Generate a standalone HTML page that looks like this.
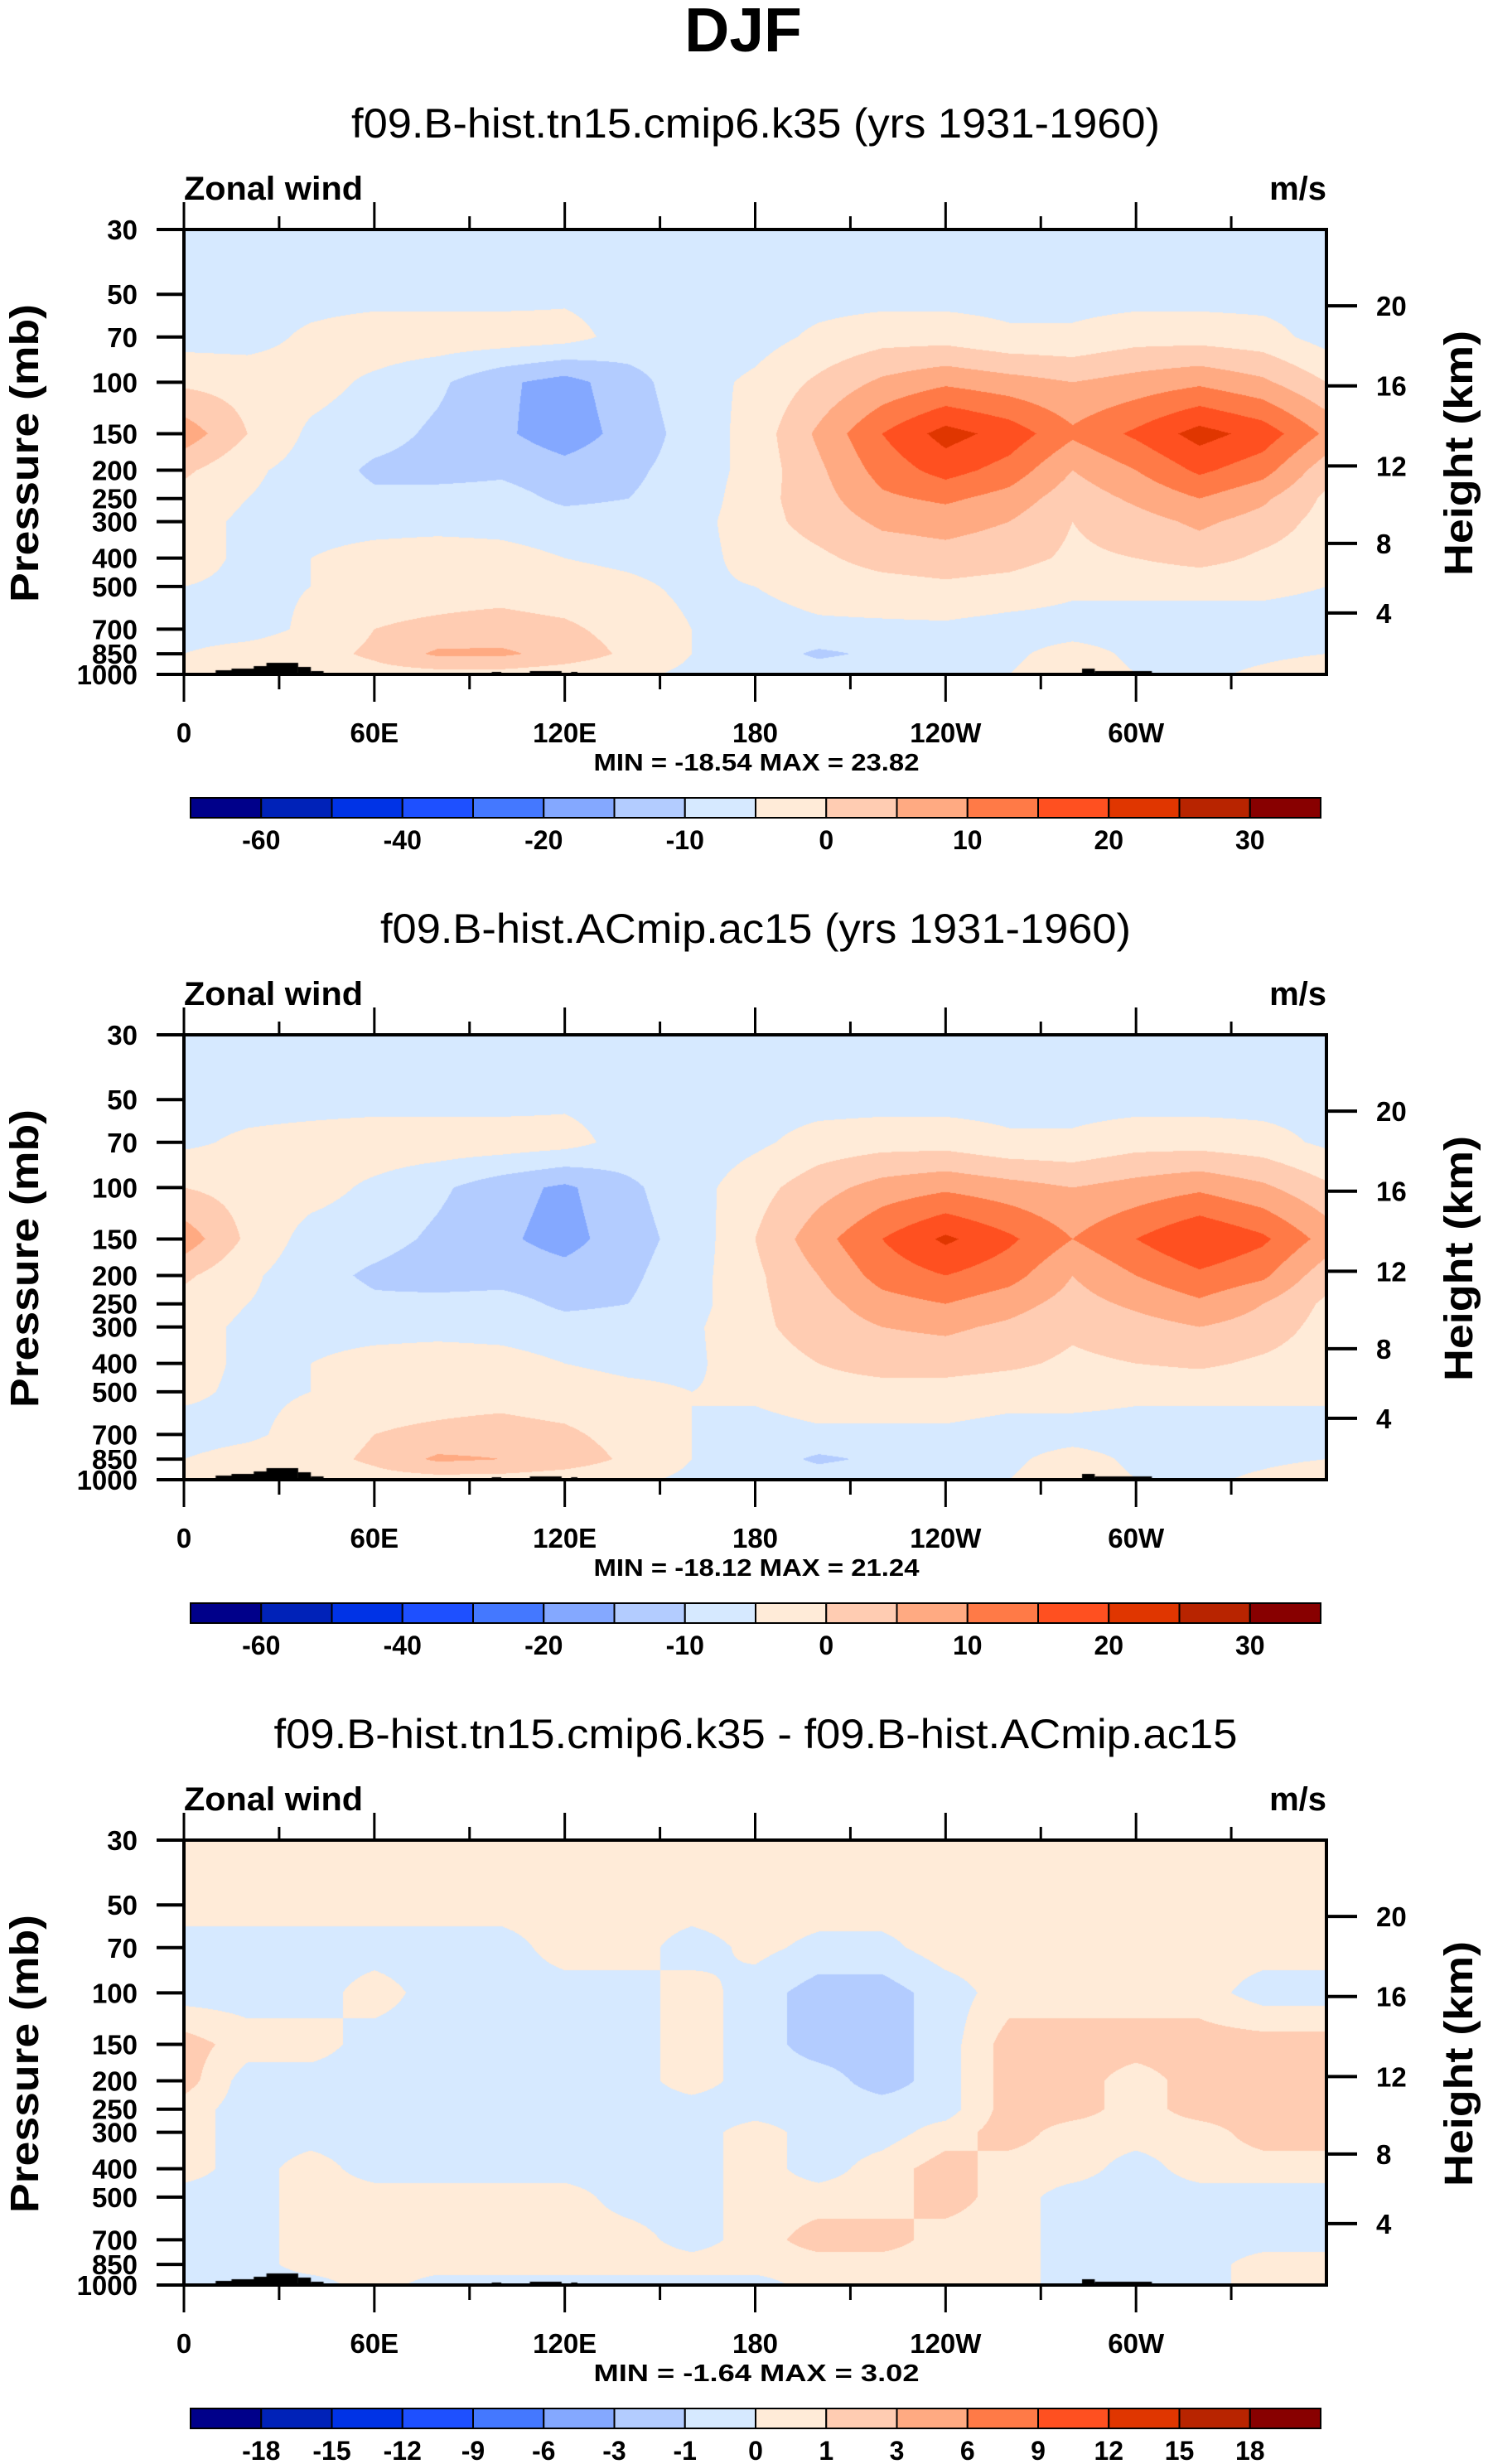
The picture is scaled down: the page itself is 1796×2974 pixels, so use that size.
<!DOCTYPE html>
<html><head><meta charset="utf-8">
<style>
body{margin:0;background:#fff;}
#root{position:relative;width:1796px;height:2974px;overflow:hidden;background:#fff;font-family:"Liberation Sans",Arial,sans-serif;}
canvas{position:absolute;}
svg{position:absolute;left:0;top:0;}
</style></head>
<body>
<div id="root">
<canvas id="c0"></canvas>
<canvas id="c1"></canvas>
<canvas id="c2"></canvas>
<svg id="svg" width="1796" height="2974">
<text x="897" y="62" font-size="75" font-weight="bold" text-anchor="middle" font-family="Liberation Sans, sans-serif">DJF</text>
</svg>
</div>
<script>
// ---- data ----
const pressures = [30,50,70,100,150,200,250,300,400,500,700,850,1000];
const lons = [0,20,40,60,80,100,120,140,160,180,200,220,240,260,280,300,320,340,360];
const pTicks = [30,50,70,100,150,200,250,300,400,500,700,850,1000];
const hTicks = [20,16,12,8,4];
const lonTickLabels = ["0","60E","120E","180","120W","60W"];
const levelsAbs = [-60,-50,-40,-30,-20,-15,-10,-5,0,5,10,15,20,25,30];
const labelsAbs = ["-60","","-40","","-20","","-10","","0","","10","","20","","30"];
const levelsDiff = [-18,-15,-12,-9,-6,-3,-1,0,1,3,6,9,12,15,18];
const labelsDiff = ["-18","-15","-12","-9","-6","-3","-1","0","1","3","6","9","12","15","18"];
const colors = ["#00008a","#0022b8","#0033e6","#1e50ff","#4478ff","#84a8ff","#b3ccff","#d6e9ff","#ffebd8","#ffccb2","#ffaa82","#ff7a47","#ff5020","#e03600","#b82400","#880000"];
const fieldK35 = [
[-7,-7,-7,-7,-7,-7,-7,-7,-7,-7,-7,-7,-7,-7,-7,-7,-7,-7,-7],
[-7,-7,-7,-7,-7,-7,-6,-7,-7,-7,-7,-7,-7,-7,-7,-7,-7,-7,-7],
[-7,-7,-4,-2,-2,-2,-3,-7,-8,-7,-4,-2,-2,-4,-4,-2,-2,-3,-7],
[-1,-2,-3,-6,-9,-14,-17,-12,-7,-4,1,6,9,7,5,7,9,6,0],
[8,0,-6,-8,-11,-14,-18,-13,-8,-3,6,15,22,18,11,16,22,18,9],
[1,-4,-7,-11,-12,-11,-13,-11,-8,-3,4,12,17,13,5,10,16,12,2],
[-2,-5,-7,-9,-8,-8,-11,-10,-8,-2,3,9,11,8,2,6,10,6,-1],
[-3,-6,-7,-7,-7,-7,-8,-8,-7,-2,2,6,7,5,0,3,6,3,-2],
[-3,-6,-5,-3,-2,-3,-5,-6,-7,-3,-1,2,3,2,-1,0,2,-1,-3],
[-5,-6,-5,-2,-2,-2,-3,-4,-6,-5,-3,-2,-1,-2,-4,-4,-4,-4,-5],
[-7,-7,-4,0,1,2,1,-2,-5,-7,-6,-6,-6,-7,-7,-7,-7,-7,-7],
[-5,-3,-2,1,6,6,3,-1,-5,-7,-11,-9,-7,-6,-3,-6,-7,-6,-5],
[0,0,-3,-2,-2,-2,-3,-4,-6,-7,-7,-6,-6,-5,-2,-5,-6,-4,-2]];
const fieldAC15 = [
[-7,-7,-7,-7,-7,-7,-7,-7,-7,-7,-7,-7,-7,-7,-7,-7,-7,-7,-7],
[-7,-7,-7,-7,-7,-7,-6,-7,-7,-7,-7,-7,-7,-7,-7,-7,-7,-7,-7],
[-6,-4,-3,-2,-2,-2,-3,-7,-8,-6,-3,-2,-2,-4,-4,-2,-2,-3,-6],
[0,-2,-3,-6,-9,-13,-16,-11,-7,-2,3,7,9,7,5,7,9,6,1],
[8,-1,-7,-8,-11,-14,-17,-12,-8,0,8,15,21,16,10,15,20,16,8],
[1,-4,-8,-11,-13,-12,-13,-11,-7,-1,5,12,15,12,5,10,14,11,2],
[-2,-5,-7,-9,-8,-8,-11,-10,-7,-1,3,8,10,7,3,6,9,5,-1],
[-3,-6,-7,-7,-7,-7,-8,-8,-6,-1,2,5,6,4,1,3,5,3,-2],
[-3,-6,-5,-3,-2,-3,-5,-6,-6,-2,0,2,2,1,-1,0,1,-1,-3],
[-4,-6,-5,-2,-2,-2,-3,-4,-5,-4,-2,-2,-2,-3,-3,-4,-4,-4,-4],
[-7,-6,-3,0,1,2,1,-2,-5,-7,-6,-6,-6,-7,-7,-7,-7,-7,-7],
[-5,-3,-2,1,6,5,3,-1,-5,-7,-11,-9,-7,-6,-3,-6,-7,-6,-5],
[0,0,-3,-2,-2,-2,-3,-4,-6,-7,-7,-6,-6,-5,-2,-5,-6,-4,-2]];
const fieldDiff = [
[.5,.5,.5,.5,.5,.5,.5,.5,.5,.5,.5,.5,.5,.5,.5,.5,.5,.5,.5],
[.5,.5,.5,.5,.5,.5,.5,.5,.5,.5,.5,.5,.5,.5,.5,.5,.5,.5,.5],
[-.5,-.5,-.5,-.5,-.5,-.5,.5,.5,-.5,.3,-.3,-.3,.5,.5,.5,.5,.5,.5,.5],
[-.5,-.5,-.5,.5,-.5,-.5,-.5,-.5,.5,-.5,-1.5,-1.5,-.5,.5,.5,.5,.5,-.5,-.5],
[1.5,.5,.5,-.5,-.5,-.5,-.5,-.5,.5,-.5,-1.5,-1.5,-.5,1.5,1.5,1.5,1.5,1.5,1.5],
[1.5,-.5,-.5,-.5,-.5,-.5,-.5,-.5,.5,-.5,-.5,-1.5,-.5,1.5,1.5,.5,1.5,1.5,1.5],
[.5,-.5,-.5,-.5,-.5,-.5,-.5,-.5,-.5,-.5,-.5,-.5,-.5,1.5,1.5,.5,1.5,1.5,1.5],
[.5,-.5,-.5,-.5,-.5,-.5,-.5,-.5,-.5,.5,-.5,-.5,.5,1.5,.5,.5,.5,1.5,1.5],
[.5,-.5,.5,-.5,-.5,-.5,-.5,-.5,-.5,.5,-.5,.5,1.5,.5,.5,-.5,.5,.5,.5],
[-.5,-.5,.5,.5,.5,.5,.5,-.5,-.5,.5,.5,.5,1.5,.5,-.5,-.5,-.5,-.5,-.5],
[-.5,-.5,.5,.5,.5,.5,.5,.5,-.5,.5,1.5,1.5,.5,.5,-.5,-.5,-.5,-.5,-.5],
[-.5,-.5,.5,.5,.5,.5,.5,.5,.5,.5,.5,.5,.5,.5,-.5,-.5,-.5,.5,.5],
[-.5,-.5,-.5,.5,-.5,-.5,-.5,-.5,-.5,-.5,.5,.5,.5,.5,-.5,-.5,-.5,.5,.5]];
const topoStart = [10,15,22,26,36,40,97,109,122,283,287];
const topoEnd   = [20,25,28,36,40,44,100,119,124,287,305];
const topoHeight= [5,7,10,14,9,4,3,4,3,7,4];
const subtitles = ["f09.B-hist.tn15.cmip6.k35 (yrs 1931-1960)","f09.B-hist.ACmip.ac15 (yrs 1931-1960)","f09.B-hist.tn15.cmip6.k35 - f09.B-hist.ACmip.ac15"];
const subtitleWidths = [976,906,1163];
const minmax = ["MIN = -18.54  MAX =  23.82","MIN = -18.12  MAX =  21.24","MIN =  -1.64  MAX =   3.02"];

// ---- layout ----
const PX0=222, PX1=1601, PY0=277, PY1=814, OFF=972;
const W=PX1-PX0, H=PY1-PY0;
const LN0=Math.log(30), LNR=Math.log(1000/30);
function xOf(lon){return PX0+lon/360*W;}
function yOfP(p){return (Math.log(p)-LN0)/LNR*H;}
function pOfKm(km){const z=km*1000; return z<11000?1013.25*Math.pow(1-2.25577e-5*z,5.25588):226.32*Math.exp(-(z-11000)/6341.6);}
function yOfH(km){return yOfP(pOfKm(km));}
const NS="http://www.w3.org/2000/svg";
const svg=document.getElementById('svg');
function mk(tag,attrs,txt){const e=document.createElementNS(NS,tag);for(const k in attrs)e.setAttribute(k,attrs[k]);if(txt!==undefined)e.textContent=txt;svg.appendChild(e);return e;}

const lnP=pressures.map(p=>Math.log(p));
function sample(field,lon,lp){
  let j=lon/20; if(j>=lons.length-1)j=lons.length-1.0001; const j0=Math.floor(j),fx=j-j0;
  let i=0; while(i<lnP.length-2 && lp>lnP[i+1]) i++;
  let fy=(lp-lnP[i])/(lnP[i+1]-lnP[i]); fy=Math.max(0,Math.min(1,fy));
  const a=field[i][j0],b=field[i][j0+1],c=field[i+1][j0],d=field[i+1][j0+1];
  return (a*(1-fx)+b*fx)*(1-fy)+(c*(1-fx)+d*fx)*fy;
}
function hex(c){return [parseInt(c.substr(1,2),16),parseInt(c.substr(3,2),16),parseInt(c.substr(5,2),16)];}
const rgb=colors.map(hex);

const fields=[fieldK35,fieldAC15,fieldDiff];
const levelSets=[levelsAbs,levelsAbs,levelsDiff];
const labelSets=[labelsAbs,labelsAbs,labelsDiff];

for(let k=0;k<3;k++){
  const off=k*OFF;
  const cv=document.getElementById('c'+k);
  cv.width=W; cv.height=H; cv.style.left=PX0+'px'; cv.style.top=(PY0+off)+'px';
  const ctx=cv.getContext('2d'); const img=ctx.createImageData(W,H);
  const lv=levelSets[k], f=fields[k];
  for(let y=0;y<H;y++){
    const lp=LN0+(y+0.5)/H*LNR;
    for(let x=0;x<W;x++){
      const v=sample(f,(x+0.5)/W*360,lp);
      let ci=0; while(ci<lv.length && v>=lv[ci]) ci++;
      const c=rgb[ci], idx=(y*W+x)*4;
      img.data[idx]=c[0];img.data[idx+1]=c[1];img.data[idx+2]=c[2];img.data[idx+3]=255;
    }
  }
  ctx.putImageData(img,0,0);
  ctx.fillStyle='#000';
  for(let t=0;t<topoStart.length;t++){
    const x0=topoStart[t]/360*W, x1=topoEnd[t]/360*W;
    ctx.fillRect(x0,H-topoHeight[t],x1-x0,topoHeight[t]);
  }
  const st=mk('text',{x:912,y:166+off,'font-size':50,'text-anchor':'middle','font-family':'Liberation Sans, sans-serif',textLength:subtitleWidths[k],lengthAdjust:'spacingAndGlyphs'},subtitles[k]);
  
  
  const zw=mk('text',{x:222,y:241+off,'font-size':40,'font-weight':'bold','font-family':'Liberation Sans, sans-serif',textLength:216,lengthAdjust:'spacingAndGlyphs'},'Zonal wind');
  
  
  const un=mk('text',{x:1601,y:241+off,'font-size':40,'font-weight':'bold','text-anchor':'end','font-family':'Liberation Sans, sans-serif'},'m/s');
  
  
  const fr=mk('rect',{x:PX0,y:PY0+off,width:W,height:H,fill:'none',stroke:'#000','stroke-width':4});
  
  
  for(let lon=0;lon<360;lon+=30){
    const major=lon%60===0, x=xOf(lon);
    const t1=mk('line',{x1:x,x2:x,y1:PY0+off,y2:PY0+off-(major?33:16),stroke:'#000','stroke-width':3});
    
    
    const t2=mk('line',{x1:x,x2:x,y1:PY1+off,y2:PY1+off+(major?33:18),stroke:'#000','stroke-width':3});
    
    
    if(major){
      const lb=mk('text',{x:x,y:896+off,'font-size':33,'font-weight':'bold','text-anchor':'middle','font-family':'Liberation Sans, sans-serif'},lonTickLabels[lon/60]);
      
      
    }
  }
  for(const p of pTicks){
    const y=PY0+off+yOfP(p);
    const t=mk('line',{x1:189,x2:PX0,y1:y,y2:y,stroke:'#000','stroke-width':4});
    
    
    const lb=mk('text',{x:166,y:y+12,'font-size':33,'font-weight':'bold','text-anchor':'end','font-family':'Liberation Sans, sans-serif'},String(p));
    
    
  }
  for(const h of hTicks){
    const y=PY0+off+yOfH(h);
    const t=mk('line',{x1:PX1,x2:1638,y1:y,y2:y,stroke:'#000','stroke-width':4});
    
    
    const lb=mk('text',{x:1661,y:y+12,'font-size':33,'font-weight':'bold','font-family':'Liberation Sans, sans-serif'},String(h));
    
    
  }
  const yl=mk('text',{x:0,y:0,'font-size':48,'font-weight':'bold','text-anchor':'middle','font-family':'Liberation Sans, sans-serif',transform:`translate(46,${547+off}) rotate(-90)`,textLength:360,lengthAdjust:'spacingAndGlyphs'},'Pressure (mb)');
  
  
  const hl=mk('text',{x:0,y:0,'font-size':48,'font-weight':'bold','text-anchor':'middle','font-family':'Liberation Sans, sans-serif',transform:`translate(1777,${547+off}) rotate(-90)`,textLength:296,lengthAdjust:'spacingAndGlyphs'},'Height (km)');
  
  
  const mm=mk('text',{x:913,y:930+off,'font-size':29,'font-weight':'bold','text-anchor':'middle','font-family':'Liberation Sans, sans-serif','xml:space':'preserve',textLength:393,lengthAdjust:'spacingAndGlyphs'},minmax[k]);
  
  
  const cbx=230, cbw=(1594-230)/16;
  for(let s=0;s<16;s++){
    const r=mk('rect',{x:cbx+s*cbw,y:963+off,width:cbw,height:24,fill:colors[s],stroke:'#000','stroke-width':2});
    
    
  }
  for(let b=0;b<labelSets[k].length;b++){
    if(!labelSets[k][b])continue;
    const lb=mk('text',{x:cbx+(b+1)*cbw,y:1025+off,'font-size':32,'font-weight':'bold','text-anchor':'middle','font-family':'Liberation Sans, sans-serif'},labelSets[k][b]);
    
    
  }
}
</script>
</body></html>
